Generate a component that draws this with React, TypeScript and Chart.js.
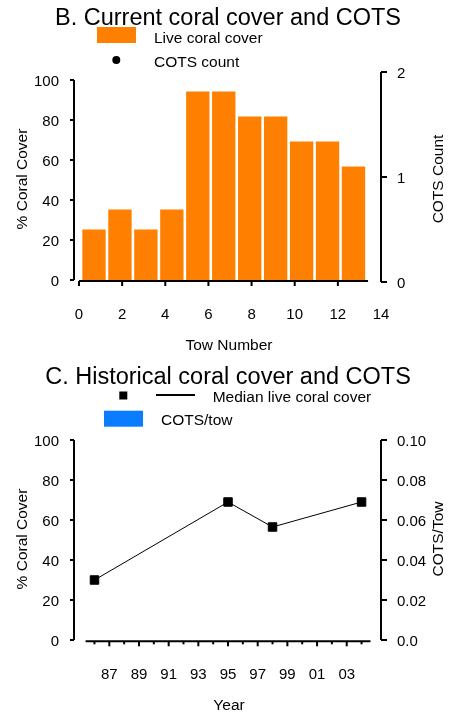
import React, { useEffect, useRef } from 'react';
import { Chart, registerables } from 'chart.js';

Chart.register(...registerables);

const FONT = '"Liberation Sans", Arial, Helvetica, sans-serif';
const ORANGE = '#ff8000';
const BLUE = '#0a7cff';
const INK = '#000000';

// ---- Panel B: current coral cover and COTS ----
const towNumbers = [1, 2, 3, 4, 5, 6, 7, 8, 9, 10, 11];
const liveCoralCover = [25.3, 35.3, 25.3, 35.3, 94.3, 94.3, 81.7, 81.7, 69.2, 69.2, 56.7];
const cotsCount: { x: number; y: number }[] = [];
const towTicks = [0, 2, 4, 6, 8, 10, 12, 14];
const coverTicks = [0, 20, 40, 60, 80, 100];
const cotsCountTicks = [0, 1, 2];

// ---- Panel C: historical coral cover and COTS ----
const surveyYears = [1986, 1995, 1998, 2004];
const medianCoralCover = [30, 69, 56.5, 69];
const cotsPerTow: { x: number; y: number }[] = [];
const yearTicks = [1987, 1989, 1991, 1993, 1995, 1997, 1999, 2001, 2003];
const yearTickLabels = ['87', '89', '91', '93', '95', '97', '99', '01', '03'];
const minorYearTicks = [1986, 1988, 1990, 1992, 1994, 1996, 1998, 2000, 2002, 2004];
const cotsTowTicks = [0, 0.02, 0.04, 0.06, 0.08, 0.1];
const cotsTowTickLabels = ['0.0', '0.02', '0.04', '0.06', '0.08', '0.10'];

type Ctx = CanvasRenderingContext2D;

function text(ctx: Ctx, s: string, x: number, y: number, size: number, align: CanvasTextAlign = 'left', baseline: CanvasTextBaseline = 'alphabetic', rot = 0) {
  ctx.save();
  ctx.font = `${size}px ${FONT}`;
  ctx.fillStyle = INK;
  ctx.textAlign = align;
  ctx.textBaseline = baseline;
  ctx.translate(x, y);
  if (rot) ctx.rotate(rot);
  ctx.fillText(s, 0, 0);
  ctx.restore();
}

function seg(ctx: Ctx, x1: number, y1: number, x2: number, y2: number, w = 2) {
  ctx.save();
  ctx.strokeStyle = INK;
  ctx.lineWidth = w;
  ctx.beginPath();
  ctx.moveTo(x1, y1);
  ctx.lineTo(x2, y2);
  ctx.stroke();
  ctx.restore();
}

const TICK_FONT = 15;
const LABEL_FONT = 15.5;
const TITLE_FONT = 23.5;

function drawB(chart: any) {
  const ctx: Ctx = chart.ctx;
  const x = chart.scales.x;
  const y = chart.scales.y;
  const y2 = chart.scales.y2;
  const area = chart.chartArea;

  text(ctx, 'B. Current coral cover and COTS', 228, 25, TITLE_FONT, 'center');

  // legend
  ctx.save();
  ctx.fillStyle = ORANGE;
  ctx.fillRect(97, 27, 39, 16);
  ctx.fillStyle = INK;
  ctx.beginPath();
  ctx.arc(116.3, 60, 4, 0, Math.PI * 2);
  ctx.fill();
  ctx.restore();
  text(ctx, 'Live coral cover', 154, 43.3, LABEL_FONT);
  text(ctx, 'COTS count', 154, 66.7, LABEL_FONT);

  // left axis
  const lx = 74;
  seg(ctx, lx, y.getPixelForValue(100), lx, y.getPixelForValue(0));
  coverTicks.forEach((v) => {
    const py = y.getPixelForValue(v);
    seg(ctx, lx - 4, py, lx, py);
    text(ctx, String(v), 59, py + 1.5, TICK_FONT, 'right', 'middle');
  });

  // right axis
  const rx = area.right;
  seg(ctx, rx, y2.getPixelForValue(2), rx, y2.getPixelForValue(0));
  cotsCountTicks.forEach((v) => {
    const py = y2.getPixelForValue(v);
    seg(ctx, rx, py, rx + 6, py);
    text(ctx, String(v), 397, py + 1.5, TICK_FONT, 'left', 'middle');
  });

  // bottom axis
  const by = area.bottom - 1;
  const xEnd = 13.4;
  seg(ctx, x.getPixelForValue(0), by, x.getPixelForValue(xEnd), by);
  towTicks.forEach((v) => {
    const px = x.getPixelForValue(v);
    if (v <= xEnd) seg(ctx, px, by, px, by + 5);
    text(ctx, String(v), px, 319.3, TICK_FONT, 'center');
  });

  text(ctx, 'Tow Number', 229, 350, LABEL_FONT, 'center');
  text(ctx, '% Coral Cover', 22.5, 179, LABEL_FONT, 'center', 'middle', -Math.PI / 2);
  text(ctx, 'COTS Count', 438.5, 179, LABEL_FONT, 'center', 'middle', -Math.PI / 2);
}

function drawC(chart: any) {
  const ctx: Ctx = chart.ctx;
  const x = chart.scales.x;
  const y = chart.scales.y;
  const y2 = chart.scales.y2;
  const area = chart.chartArea;

  text(ctx, 'C. Historical coral cover and COTS', 228, 29, TITLE_FONT, 'center');

  // legend
  ctx.save();
  ctx.fillStyle = INK;
  ctx.fillRect(119.3, 36.5, 8, 8);
  ctx.fillStyle = BLUE;
  ctx.fillRect(104, 55.7, 39, 16);
  ctx.restore();
  seg(ctx, 156, 40, 195, 40, 2);
  text(ctx, 'Median live coral cover', 212.7, 46.7, LABEL_FONT);
  text(ctx, 'COTS/tow', 161, 70, LABEL_FONT);

  // left axis
  const lx = 74;
  seg(ctx, lx, y.getPixelForValue(100), lx, y.getPixelForValue(0));
  coverTicks.forEach((v) => {
    const py = y.getPixelForValue(v);
    seg(ctx, lx - 4, py, lx, py);
    text(ctx, String(v), 59, py + 1.5, TICK_FONT, 'right', 'middle');
  });

  // right axis
  const rx = area.right;
  seg(ctx, rx, y2.getPixelForValue(0.1), rx, y2.getPixelForValue(0));
  cotsTowTicks.forEach((v, i) => {
    const py = y2.getPixelForValue(v);
    seg(ctx, rx, py, rx + 6, py);
    text(ctx, cotsTowTickLabels[i], 397, py + 1.5, TICK_FONT, 'left', 'middle');
  });

  // bottom axis
  const by = area.bottom + 1.3;
  seg(ctx, x.getPixelForValue(1985.4), by, x.getPixelForValue(2004.6), by);
  minorYearTicks.forEach((v) => {
    const px = x.getPixelForValue(v);
    seg(ctx, px, by, px, by + 3);
  });
  yearTicks.forEach((v, i) => {
    const px = x.getPixelForValue(v);
    seg(ctx, px, by, px, by + 5);
    text(ctx, yearTickLabels[i], px, 324.3, TICK_FONT, 'center');
  });

  text(ctx, 'Year', 229, 355, LABEL_FONT, 'center');
  text(ctx, '% Coral Cover', 22.5, 184, LABEL_FONT, 'center', 'middle', -Math.PI / 2);
  text(ctx, 'COTS/Tow', 438.5, 184, LABEL_FONT, 'center', 'middle', -Math.PI / 2);
}

export default function App() {
  const refB = useRef<HTMLCanvasElement | null>(null);
  const refC = useRef<HTMLCanvasElement | null>(null);

  useEffect(() => {
    const common = {
      responsive: false,
      maintainAspectRatio: false,
      animation: false as const,
      events: [] as any[],
      plugins: {
        legend: { display: false },
        title: { display: false },
        tooltip: { enabled: false },
      },
    };

    const chartB = new Chart(refB.current as HTMLCanvasElement, {
      type: 'bar',
      data: {
        datasets: [
          {
            type: 'bar',
            label: 'Live coral cover',
            data: towNumbers.map((t, i) => ({ x: t, y: liveCoralCover[i] })),
            backgroundColor: ORANGE,
            borderWidth: 0,
            barPercentage: 0.9,
            categoryPercentage: 1,
            xAxisID: 'xBar',
            yAxisID: 'y',
          } as any,
          {
            type: 'scatter',
            label: 'COTS count',
            data: cotsCount,
            backgroundColor: INK,
            borderColor: INK,
            pointRadius: 4,
            xAxisID: 'xBar',
            yAxisID: 'y2',
          } as any,
        ],
      },
      options: {
        ...common,
        layout: { padding: { left: 79, right: 69, top: 72, bottom: 73 } },
        scales: {
          x: { type: 'linear', position: 'bottom', min: 0, max: 14, display: false, offset: false },
          xBar: { type: 'linear', position: 'bottom', min: 0.422, max: 12.06, display: false, offset: false },
          y: { type: 'linear', position: 'left', min: -1, max: 104, display: false },
          y2: { type: 'linear', position: 'right', min: 0, max: 2, display: false },
        },
      } as any,
      plugins: [{ id: 'decorB', afterDraw: (c: any) => drawB(c) }],
    });

    const chartC = new Chart(refC.current as HTMLCanvasElement, {
      type: 'line',
      data: {
        datasets: [
          {
            type: 'bar',
            label: 'COTS/tow',
            data: cotsPerTow,
            backgroundColor: BLUE,
            xAxisID: 'x',
            yAxisID: 'y2',
          } as any,
          {
            type: 'line',
            label: 'Median live coral cover',
            data: surveyYears.map((yr, i) => ({ x: yr, y: medianCoralCover[i] })),
            borderColor: INK,
            borderWidth: 1,
            backgroundColor: INK,
            pointStyle: 'rect',
            pointRadius: 6,
            pointBorderWidth: 1,
            pointBackgroundColor: INK,
            pointBorderColor: INK,
            tension: 0,
            fill: false,
            xAxisID: 'x',
            yAxisID: 'y',
          } as any,
        ],
      },
      options: {
        ...common,
        layout: { padding: { left: 74, right: 69, top: 85, bottom: 75 } },
        scales: {
          x: { type: 'linear', position: 'bottom', min: 1984.62, max: 2005.31, display: false, offset: false },
          y: { type: 'linear', position: 'left', min: 0, max: 100, display: false },
          y2: { type: 'linear', position: 'right', min: 0, max: 0.1, display: false },
        },
      } as any,
      plugins: [{ id: 'decorC', afterDraw: (c: any) => drawC(c) }],
    });

    return () => {
      chartB.destroy();
      chartC.destroy();
    };
  }, []);

  return (
    <div style={{ position: 'absolute', left: 0, top: 0, width: 450, height: 715, background: '#fff' }}>
      <canvas ref={refB} width={450} height={355} style={{ display: 'block', width: 450, height: 355 }} />
      <canvas ref={refC} width={450} height={360} style={{ display: 'block', width: 450, height: 360 }} />
    </div>
  );
}
